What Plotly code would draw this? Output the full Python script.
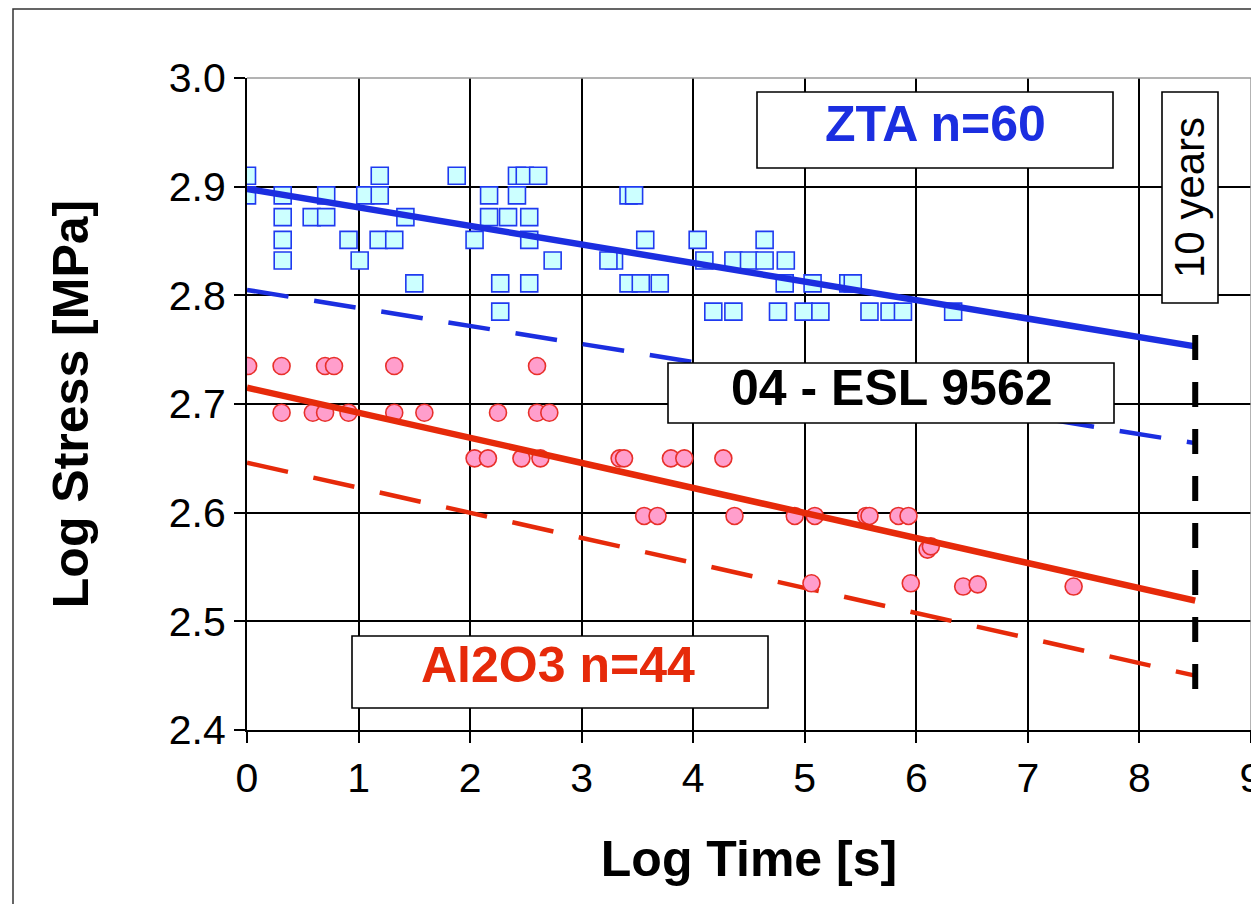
import plotly.graph_objects as go

# ---------------- data ----------------
zta_x = [0.0, 0.0, 0.32, 0.32, 0.32, 0.32, 0.58, 0.71, 0.71, 0.91, 1.01, 1.06,
         1.19, 1.19, 1.18, 1.32, 1.42, 1.50, 1.88, 2.17, 2.17, 2.04, 2.34, 2.27,
         2.27, 2.42, 2.49, 2.42, 2.61, 2.53, 2.53, 2.53, 2.74, 3.42, 3.47, 3.57,
         4.04, 4.64, 3.29, 3.24, 4.10, 4.36, 4.50, 4.64, 4.83, 3.42, 3.53, 3.70,
         4.82, 5.07, 5.39, 5.43, 4.18, 4.36, 4.76, 4.99, 5.14, 5.58, 5.76, 5.88,
         6.33]
zta_y = [2.910, 2.892, 2.892, 2.872, 2.851, 2.832, 2.872, 2.892, 2.872, 2.851, 2.832, 2.892,
         2.910, 2.892, 2.851, 2.851, 2.872, 2.811, 2.910, 2.892, 2.872, 2.851, 2.872, 2.811,
         2.785, 2.910, 2.910, 2.892, 2.910, 2.872, 2.851, 2.811, 2.832, 2.892, 2.892, 2.851,
         2.851, 2.851, 2.832, 2.832, 2.832, 2.832, 2.832, 2.832, 2.832, 2.811, 2.811, 2.811,
         2.811, 2.811, 2.811, 2.811, 2.785, 2.785, 2.785, 2.785, 2.785, 2.785, 2.785, 2.785,
         2.785]

al_x = [0.01, 0.31, 0.70, 0.78, 1.32, 2.60,
        0.31, 0.59, 0.70, 0.91, 1.32, 1.59, 2.25, 2.60, 2.71,
        2.04, 2.16, 2.46, 2.63, 3.34, 3.38, 3.80, 3.92, 4.27,
        3.56, 3.68, 4.37, 4.91, 5.09, 5.55, 5.58, 5.84, 5.93,
        6.10, 6.13, 5.06, 5.95, 6.42, 6.55, 7.41]
al_y = [2.735, 2.735, 2.735, 2.735, 2.735, 2.735,
        2.692, 2.692, 2.692, 2.692, 2.692, 2.692, 2.692, 2.692, 2.692,
        2.650, 2.650, 2.650, 2.650, 2.650, 2.650, 2.650, 2.650, 2.650,
        2.597, 2.597, 2.597, 2.597, 2.597, 2.597, 2.597, 2.597, 2.597,
        2.566, 2.569, 2.535, 2.535, 2.532, 2.534, 2.532]

fit_x = [0.0, 8.5]
zta_fit = [2.898, 2.753]
zta_low = [2.805, 2.664]
al_fit = [2.715, 2.519]
al_low = [2.646, 2.450]

ten_years_x = [8.5, 8.5]
ten_years_y = [2.7635, 2.42]

x_ticks = [0, 1, 2, 3, 4, 5, 6, 7, 8, 9]
y_ticks = [2.4, 2.5, 2.6, 2.7, 2.8, 2.9, 3.0]

# ---------------- styling ----------------
FONT = "Liberation Sans, Arial, Helvetica, sans-serif"
BLUE = "#1B2EE0"
RED = "#E62A0A"
OFF = 8                      # page body margin
W, H = 1259 - OFF, 904 - OFF
L, R, T, B = 247 - OFF, 1251 - OFF, 78 - OFF, 730 - OFF   # plot area in figure px


def px2paper(px, py):
    """page pixel -> paper coords"""
    px -= OFF
    py -= OFF
    return (px - L) / (R - L), (B - py) / (B - T)


fig = go.Figure()

fig.add_trace(go.Scatter(x=fit_x, y=zta_low, mode="lines",
                         line=dict(color=BLUE, width=4.5, dash="42px,26px"),
                         showlegend=False))
fig.add_trace(go.Scatter(x=fit_x, y=al_low, mode="lines",
                         line=dict(color=RED, width=4.5, dash="42px,26px"),
                         showlegend=False))
fig.add_trace(go.Scatter(x=zta_x, y=zta_y, mode="markers",
                         marker=dict(symbol="square", size=17, color="#CCFFFF",
                                     line=dict(color="#1F3AF0", width=1.6)),
                         showlegend=False))
fig.add_trace(go.Scatter(x=al_x, y=al_y, mode="markers",
                         marker=dict(symbol="circle", size=17, color="#FF9ECC",
                                     line=dict(color="#E8302A", width=1.6)),
                         showlegend=False))
fig.add_trace(go.Scatter(x=fit_x, y=zta_fit, mode="lines",
                         line=dict(color=BLUE, width=6.5), showlegend=False))
fig.add_trace(go.Scatter(x=fit_x, y=al_fit, mode="lines",
                         line=dict(color=RED, width=6.5), showlegend=False))
fig.add_trace(go.Scatter(x=ten_years_x, y=ten_years_y, mode="lines",
                         line=dict(color="black", width=6, dash="25px,22px"),
                         showlegend=False))

shapes = []
# outer frame
x0, y0 = px2paper(13, 9)
x1, y1 = px2paper(1300, 950)
shapes.append(dict(type="rect", xref="paper", yref="paper", x0=x0, y0=y0, x1=x1, y1=y1,
                   line=dict(color="#333333", width=1.5), fillcolor="rgba(0,0,0,0)",
                   layer="below"))
# gray top/right frame of plot area
shapes.append(dict(type="line", xref="paper", yref="paper", x0=0, x1=1, y0=1, y1=1,
                   line=dict(color="#9a9a9a", width=1.5), layer="above"))
shapes.append(dict(type="line", xref="paper", yref="paper", x0=1, x1=1, y0=0, y1=1,
                   line=dict(color="#9a9a9a", width=1.5), layer="above"))

boxes = [
    (757, 92, 1113, 168),   # ZTA
    (1162, 92, 1218, 303),  # 10 years
    (668, 363, 1114, 423),  # ESL
    (352, 636, 768, 708),   # Al2O3
]
for bx0, by0, bx1, by1 in boxes:
    a0, b0 = px2paper(bx0, by1)
    a1, b1 = px2paper(bx1, by0)
    shapes.append(dict(type="rect", xref="paper", yref="paper", x0=a0, y0=b0, x1=a1, y1=b1,
                       line=dict(color="black", width=1.6), fillcolor="white", layer="above"))

annotations = []


def add_text(text, cx, cy, color, size, bold=True, angle=0):
    ax, ay = px2paper(cx, cy)
    annotations.append(dict(text=f"<b>{text}</b>" if bold else text,
                            xref="paper", yref="paper", x=ax, y=ay,
                            xanchor="center", yanchor="middle", showarrow=False,
                            textangle=angle,
                            font=dict(family=FONT, size=size, color=color)))


add_text("ZTA n=60", 935, 124, BLUE, 50)
add_text("04 - ESL 9562", 892, 388, "black", 50)
add_text("Al2O3 n=44", 558, 665, RED, 50)
add_text("10 years", 1189, 198, "black", 42, bold=False, angle=-90)

fig.update_layout(
    width=W, height=H,
    margin=dict(l=L, r=W - R, t=T, b=H - B, autoexpand=False),
    paper_bgcolor="white", plot_bgcolor="white",
    shapes=shapes, annotations=annotations,
    font=dict(family=FONT, color="black"),
)
fig.update_xaxes(range=[0, 9], tickvals=x_ticks, ticktext=[str(v) for v in x_ticks],
                 showgrid=True, gridcolor="black", gridwidth=1.5,
                 showline=True, linecolor="black", linewidth=2,
                 ticks="outside", ticklen=11, tickwidth=2, tickcolor="black",
                 tickfont=dict(size=41, family=FONT), zeroline=False,
                 ticklabeloverflow="allow",
                 title=dict(text="<b>Log Time [s]</b>", font=dict(size=50, family=FONT),
                            standoff=41),
                 automargin=False)
fig.update_yaxes(range=[2.4, 3.0], tickvals=y_ticks, ticktext=[f"{v:.1f}" for v in y_ticks],
                 showgrid=True, gridcolor="black", gridwidth=1.5,
                 showline=True, linecolor="black", linewidth=2,
                 ticks="outside", ticklen=11, tickwidth=2, tickcolor="black",
                 tickfont=dict(size=41, family=FONT), zeroline=False,
                 title=dict(text="<b>Log Stress [MPa]</b>", font=dict(size=50, family=FONT),
                            standoff=64),
                 automargin=False)

fig.write_html("out.html")
